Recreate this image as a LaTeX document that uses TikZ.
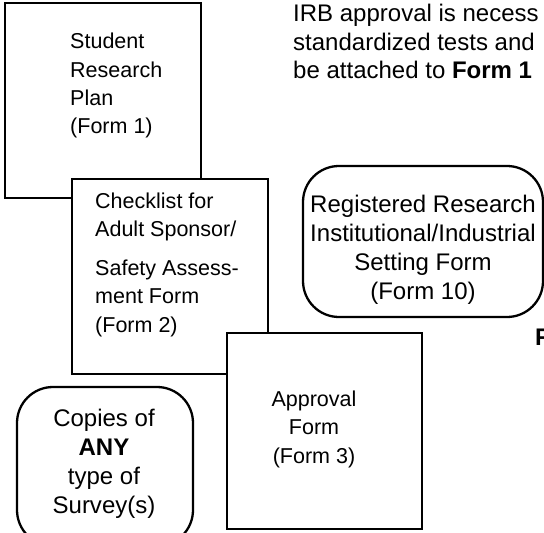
\documentclass[tikz,border=0pt]{standalone}
\usepackage{fontspec}
\setmainfont{Liberation Sans}
\tikzset{
  formbox/.style={draw,fill=white,line width=2.3pt,rectangle,inner sep=0pt,outer sep=0pt,anchor=north west},
  roundbox/.style={formbox,rounded corners=36bp},
  formtext/.style={inner sep=0pt,font=\fontsize{21.6}{28.6}\selectfont},
  bigtext/.style={inner sep=0pt,font=\fontsize{24.1}{29}\selectfont}
}
\begin{document}
\begin{tikzpicture}[x=1bp,y=-1bp]
\useasboundingbox (0,0) rectangle (544,533);

% Form 1
\node[formbox,minimum width=196bp,minimum height=195bp] (plan) at (5,3) {};
\node[formtext,anchor=base west,align=left] (plantext) at (70,134) {Student\\Research\\Plan\\(Form 1)};

% Form 2
\node[formbox,minimum width=196bp,minimum height=195bp] (checklist) at (72,179) {};
\node[formtext,anchor=base west,align=left] (checklisttext) at (95,332) {Checklist for\\Adult Sponsor/\\[10bp]Safety Assess-\\ment Form\\(Form 2)};

% Form 3
\node[formbox,minimum width=195bp,minimum height=196bp] (approval) at (227,333) {};
\node[formtext,anchor=base,align=center] (approvaltext) at (314,463) {Approval\\Form\\(Form 3)};

% Surveys
\node[roundbox,minimum width=176bp,minimum height=159bp] (survey) at (17,387) {};
\node[bigtext,anchor=base,align=center] (surveytext) at (104,513) {Copies of\\\textbf{ANY}\\type of\\Survey(s)};

% Form 10
\node[roundbox,minimum width=240bp,minimum height=151bp] (setting) at (303,166) {};
\node[bigtext,anchor=base,align=center] (settingtext) at (423,299) {Registered Research\\Institutional/Industrial\\Setting Form\\(Form 10)};

% notes
\node[bigtext,anchor=base west,align=left] (irbnote) at (293,79) {IRB approval is necess\\standardized tests and\\be attached to \textbf{Form 1}};
\node[bigtext,anchor=base west] (fnote) at (535,345) {\textbf{F}};

\end{tikzpicture}
\end{document}
